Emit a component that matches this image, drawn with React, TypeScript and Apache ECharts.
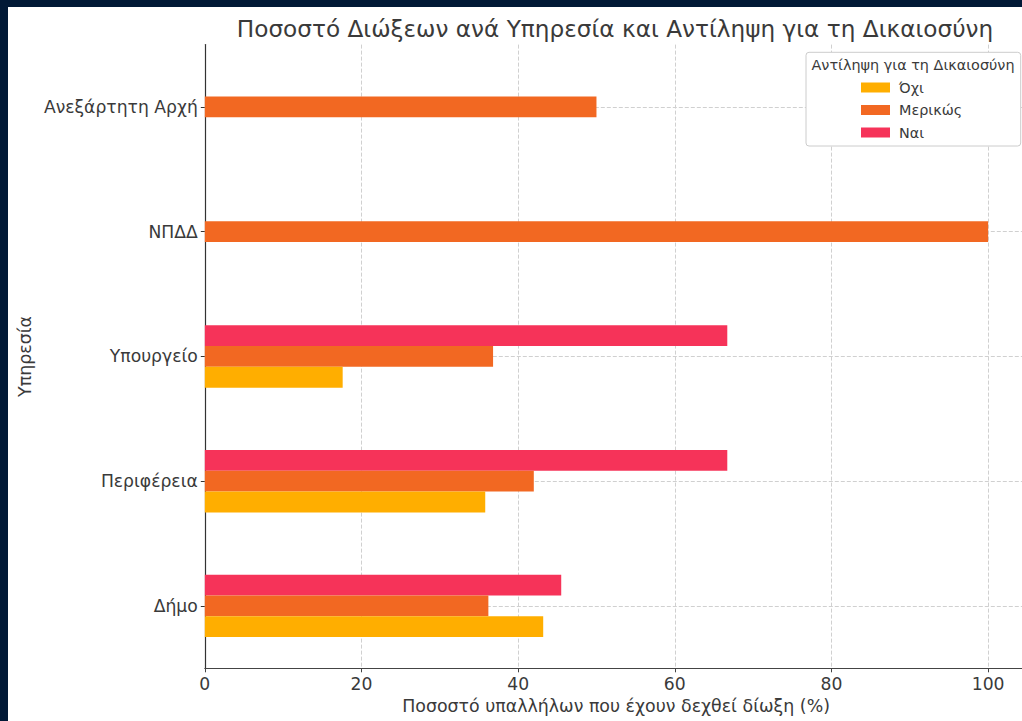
import React, { useEffect, useRef } from "react";
import * as echarts from "echarts";

const categories = ["Δήμο", "Περιφέρεια", "Υπουργείο", "ΝΠΔΔ", "Ανεξάρτητη Αρχή"];
const legendNames = ["Όχι", "Μερικώς", "Ναι"];
const valuesOxi = [43.2, 35.8, 17.6, null, null];
const valuesMerikos = [36.2, 42.0, 36.8, 100, 50];
const valuesNai = [45.5, 66.7, 66.7, null, null];
const colorOxi = "#FFAE00";
const colorMerikos = "#F26822";
const colorNai = "#F63359";
const xTicks = [0, 20, 40, 60, 80, 100];

const FONT = "DejaVu Sans";
const TXT = "#3a3a3a";

export default function App() {
  const ref = useRef<HTMLDivElement>(null);
  useEffect(() => {
    if (!ref.current) return;
    const chart = echarts.init(ref.current, null, { renderer: "svg" });
    // drawn top-to-bottom within a group: Ναι, Μερικώς, Όχι
    const seriesDefs = [
      { name: "Ναι", data: valuesNai, color: colorNai },
      { name: "Μερικώς", data: valuesMerikos, color: colorMerikos },
      { name: "Όχι", data: valuesOxi, color: colorOxi },
    ];
    const option: any = {
      animation: false,
      backgroundColor: "#ffffff",
      textStyle: { fontFamily: FONT },
      title: {
        text: "Ποσοστό Διώξεων ανά Υπηρεσία και Αντίληψη για τη Δικαιοσύνη",
        left: 602,
        top: 5,
        textAlign: "center",
        textStyle: { fontFamily: FONT, fontSize: 23.2, fontWeight: "normal", color: TXT },
      },
      grid: { left: 193.5, top: 37.6, width: 825.8, height: 623.7, containLabel: false },
      legend: {
        z: 20,
        orient: "vertical",
        left: 848,
        top: 67.5,
        itemWidth: 29,
        itemHeight: 10,
        itemGap: 6.5,
        icon: "rect",
        data: legendNames,
        textStyle: { fontFamily: FONT, fontSize: 14.4, color: TXT, lineHeight: 16, padding: [0, 0, 0, 4] },
      },
      xAxis: {
        type: "value",
        min: 0,
        max: 105,
        interval: 20,
        name: "Ποσοστό υπαλλήλων που έχουν δεχθεί δίωξη (%)",
        nameLocation: "middle",
        nameGap: 26,
        nameTextStyle: { fontFamily: FONT, fontSize: 17.4, color: TXT },
        axisLine: { show: true, lineStyle: { color: "#444", width: 1.2 } },
        axisTick: { show: true, length: 4, lineStyle: { color: "#444" } },
        axisLabel: {
          fontFamily: FONT,
          fontSize: 17.2,
          color: TXT,
          margin: 7,
          showMaxLabel: false,
          formatter: (v: number) => (xTicks.includes(v) ? String(v) : ""),
        },
        splitLine: { show: true, lineStyle: { color: "#d0d0d0", type: [4, 2], width: 1 } },
      },
      yAxis: {
        type: "category",
        data: categories,
        name: "Υπηρεσία",
        nameLocation: "middle",
        nameGap: 165,
        nameRotate: 90,
        nameTextStyle: { fontFamily: FONT, fontSize: 17.4, color: TXT },
        axisLine: { show: true, lineStyle: { color: "#333", width: 1.2 } },
        axisTick: { show: true, length: 4, alignWithLabel: true, lineStyle: { color: "#333" } },
        axisLabel: { fontFamily: FONT, fontSize: 17.2, color: TXT, margin: 7 },
        splitLine: { show: true, alignWithLabel: true, lineStyle: { color: "#d0d0d0", type: [4, 2], width: 1 } },
      },
      graphic: [
        {
          type: "rect",
          z: 10,
          shape: { x: 798, y: 45.3, width: 214.7, height: 93.7, r: 3 },
          style: { fill: "#ffffff", stroke: "#cccccc", lineWidth: 1 },
        },
        {
          type: "text",
          z: 20,
          x: 905,
          y: 58,
          style: {
            text: "Αντίληψη για τη Δικαιοσύνη",
            fontFamily: FONT,
            fontSize: 14.4,
            fill: TXT,
            align: "center",
            verticalAlign: "middle",
          },
        },
      ],
      series: seriesDefs.map((s) => ({
        name: s.name,
        type: "bar",
        data: s.data,
        barWidth: "16.67%",
        barGap: "0%",
        itemStyle: { color: s.color },
      })),
    };
    chart.setOption(option);
    return () => chart.dispose();
  }, []);
  return (
    <div style={{ position: "absolute", left: 0, top: 0, width: 1022, height: 721, background: "#011936", overflow: "hidden" }}>
      <div ref={ref} style={{ position: "absolute", left: 8, top: 7, width: 1030, height: 714, background: "#fff" }} />
    </div>
  );
}
